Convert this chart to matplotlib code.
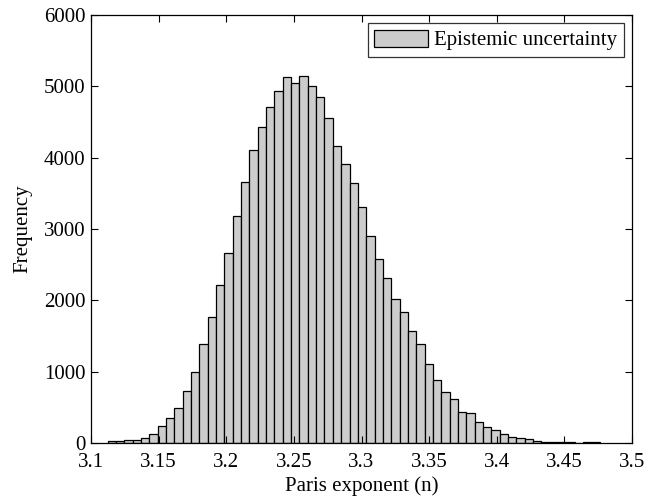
import matplotlib
matplotlib.use('Agg')
import matplotlib.pyplot as plt
import numpy as np

# histogram
bin_start = 3.1122
bin_width = 0.00617
counts = [28, 28, 42, 42, 70, 126, 232, 353, 493, 725,
          1000, 1393, 1763, 2220, 2660, 3188, 3665, 4105, 4428, 4703,
          4937, 5124, 5053, 5143, 5003, 4857, 4562, 4165, 3913, 3651,
          3310, 2907, 2585, 2319, 2024, 1833, 1566, 1388, 1110, 879,
          722, 613, 441, 421, 299, 226, 178, 122, 88, 66,
          52, 33, 19, 15, 15, 8, 0, 12, 12]
xticks = [3.1, 3.15, 3.2, 3.25, 3.3, 3.35, 3.4, 3.45, 3.5]
xticklabels = ['3.1', '3.15', '3.2', '3.25', '3.3', '3.35', '3.4', '3.45', '3.5']
yticks = [0, 1000, 2000, 3000, 4000, 5000, 6000]

plt.rcParams['font.family'] = ['Liberation Serif', 'DejaVu Serif']
fs = 15

edges = bin_start + bin_width * np.arange(len(counts))

fig = plt.figure(figsize=(6.52, 4.99), dpi=100)
ax = fig.add_axes([0.1396, 0.1122, 0.8297, 0.8578])
ax.bar(edges, counts, width=bin_width, align='edge', color='#cccccc',
       edgecolor='black', linewidth=0.9, label='Epistemic uncertainty')

ax.set_xlim(3.1, 3.5)
ax.set_ylim(0, 6000)
ax.set_xticks(xticks)
ax.set_xticklabels(xticklabels)
ax.set_yticks(yticks)
ax.tick_params(direction='in', top=True, right=True, length=5, width=0.8,
               labelsize=fs)
ax.tick_params(axis='x', pad=7)
ax.tick_params(axis='y', pad=4)
for s in ax.spines.values():
    s.set_linewidth(0.9)
ax.set_xlabel('Paris exponent (n)', fontsize=fs, labelpad=3)
ax.set_ylabel('Frequency', fontsize=fs, labelpad=8)

leg = ax.legend(loc='upper right', fancybox=False, edgecolor='black',
                fontsize=fs, handlelength=2.6, handleheight=0.9,
                borderaxespad=0.4, borderpad=0.3, handletextpad=0.3)
leg.get_frame().set_linewidth(0.9)

plt.savefig('out.png', dpi=100)
